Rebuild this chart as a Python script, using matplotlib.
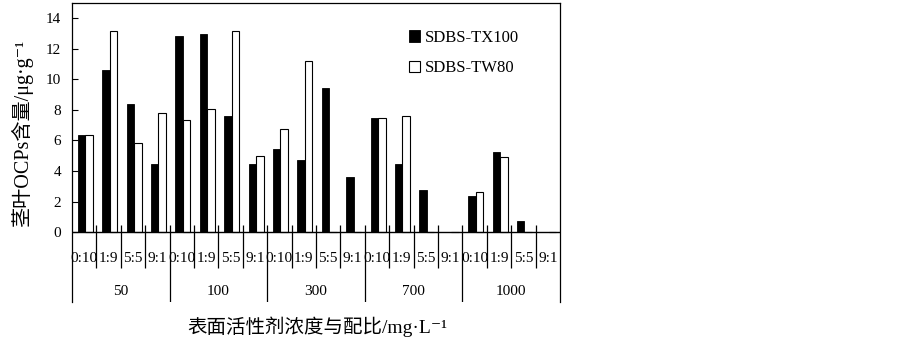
import numpy as np
import matplotlib
matplotlib.use('Agg')
import matplotlib.pyplot as plt

plt.rcParams['font.family'] = ['Liberation Serif', 'Noto Sans CJK SC', 'DejaVu Serif']

groups = ['50', '100', '300', '700', '1000']
ratios = ['0:10', '1:9', '5:5', '9:1']
tx100 = [6.35, 10.63, 8.36, 4.48,
         12.82, 12.99, 7.60, 4.48,
         5.41, 4.74, 9.41, 3.58,
         7.49, 4.48, 2.73, 0,
         2.38, 5.26, 0.74, 0]
tw80 = [6.35, 13.14, 5.85, 7.82,
        7.31, 8.03, 13.14, 5.00,
        6.72, 11.22, 0, 0,
        7.49, 7.58, 0, 0,
        2.64, 4.89, 0, 0]

n = len(tx100)
x = np.arange(n)
w = 0.31
ymin, ymax = -4.58, 15.0

fig = plt.figure(figsize=(9.03, 3.4), dpi=100)
ax = fig.add_axes([72/903, 38/340, 488/903, 299/340])

ax.bar(x + 0.235, tx100, width=w, align='edge', color='black',
       edgecolor='black', linewidth=0.6, label='SDBS-TX100')
ax.bar(x + 0.545, tw80, width=w, align='edge', facecolor='white',
       edgecolor='black', linewidth=0.8, label='SDBS-TW80')

ax.set_xlim(0, n)
ax.set_ylim(ymin, ymax)
ax.axhline(0, color='black', lw=1)
ax.set_xticks([])
ax.set_yticks(np.arange(0, 15, 2))
ax.tick_params(axis='y', direction='in', length=4, labelsize=11, pad=8)
ax.spines['bottom'].set_visible(False)
for s in ['left', 'right', 'top']:
    ax.spines[s].set_linewidth(0.9)

# category separators
for k in range(1, n):
    if k % 4 == 0:
        ax.vlines(k, ymin, 0.46, color='black', lw=0.9)
    else:
        ax.vlines(k, -2.35, 0.46, color='black', lw=0.9)

for i in range(n):
    ax.text(i + 0.5, -1.7, ratios[i % 4], ha='center', va='center', fontsize=11)
for g, lab in enumerate(groups):
    ax.text(4*g + 2, -3.9, lab, ha='center', va='center', fontsize=11)

ax.legend(loc='upper left', bbox_to_anchor=(0.69, 0.91), frameon=False,
          fontsize=12, handlelength=0.65, handleheight=0.65, handletextpad=0.3,
          labelspacing=0.85, borderpad=0, borderaxespad=0)

fig.text(22/903, 1 - 133/340, '茎叶OCPs含量/μg·g⁻¹', rotation=90,
         ha='center', va='center', fontsize=14.5)
fig.text(317/903, 1 - 327/340, '表面活性剂浓度与配比/mg·L⁻¹',
         ha='center', va='center', fontsize=14)

fig.savefig('out.png', dpi=100)
